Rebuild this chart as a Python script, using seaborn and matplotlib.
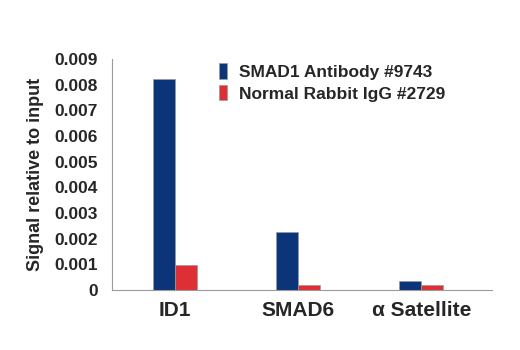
import matplotlib
matplotlib.use("Agg")
import matplotlib.pyplot as plt
import seaborn as sns
import pandas as pd

# data
targets = ["ID1", "SMAD6", "\u03b1 Satellite"]
series = ["SMAD1 Antibody #9743", "Normal Rabbit IgG #2729"]
smad1_vals = [0.00822, 0.00225, 0.00035]
igg_vals = [0.00098, 0.00020, 0.00020]
yticks = [0, 0.001, 0.002, 0.003, 0.004, 0.005, 0.006, 0.007, 0.008, 0.009]
ytick_labels = ["0", "0.001", "0.002", "0.003", "0.004", "0.005", "0.006", "0.007", "0.008", "0.009"]

colors = ["#0c3479", "#de2f34"]

df = pd.DataFrame({
    "target": targets * 2,
    "series": [series[0]] * 3 + [series[1]] * 3,
    "value": smad1_vals + igg_vals,
})

sns.set_style("white")
plt.rcParams["font.family"] = ["Liberation Sans", "DejaVu Sans"]
plt.rcParams["font.weight"] = "bold"

fig = plt.figure(figsize=(5.2, 3.5), dpi=100)
ax = fig.add_axes([0.2154, 0.1714, 0.7300, 0.6600])

sns.barplot(data=df, x="target", y="value", hue="series", order=targets,
            hue_order=series, palette=colors, saturation=1, width=0.356, gap=0,
            edgecolor="#9a9a9a", linewidth=0.5, ax=ax, legend=True)

ax.set_xlim(-0.51, 2.57)
ax.set_ylim(0, 0.009)
ax.set_yticks(yticks)
ax.set_yticklabels(ytick_labels, fontsize=12.5, fontweight="bold")
ax.set_xticks(range(len(targets)))
ax.set_xticklabels(targets, fontsize=15, fontweight="bold")
ax.set_xlabel("")
ax.set_ylabel("Signal relative to input", fontsize=13, fontweight="bold", labelpad=8)

for side in ["top", "right"]:
    ax.spines[side].set_visible(False)
ax.spines["left"].set_color("#9a9a9a")
ax.spines["bottom"].set_color("#9a9a9a")
ax.spines["left"].set_linewidth(0.8)
ax.spines["bottom"].set_linewidth(0.8)
ax.tick_params(axis="y", direction="out", length=6, width=0.8, color="#9a9a9a", pad=4)
ax.tick_params(axis="x", length=0, pad=8)

handles, labels = ax.get_legend_handles_labels()
ax.legend(handles, labels, loc="upper left", bbox_to_anchor=(0.422, 0.82),
          bbox_transform=fig.transFigure, frameon=False, fontsize=12.5,
          handlelength=0.45, handleheight=1.0, handletextpad=0.7,
          labelspacing=0.3, borderaxespad=0, borderpad=0)

fig.savefig("out.png", dpi=100)
